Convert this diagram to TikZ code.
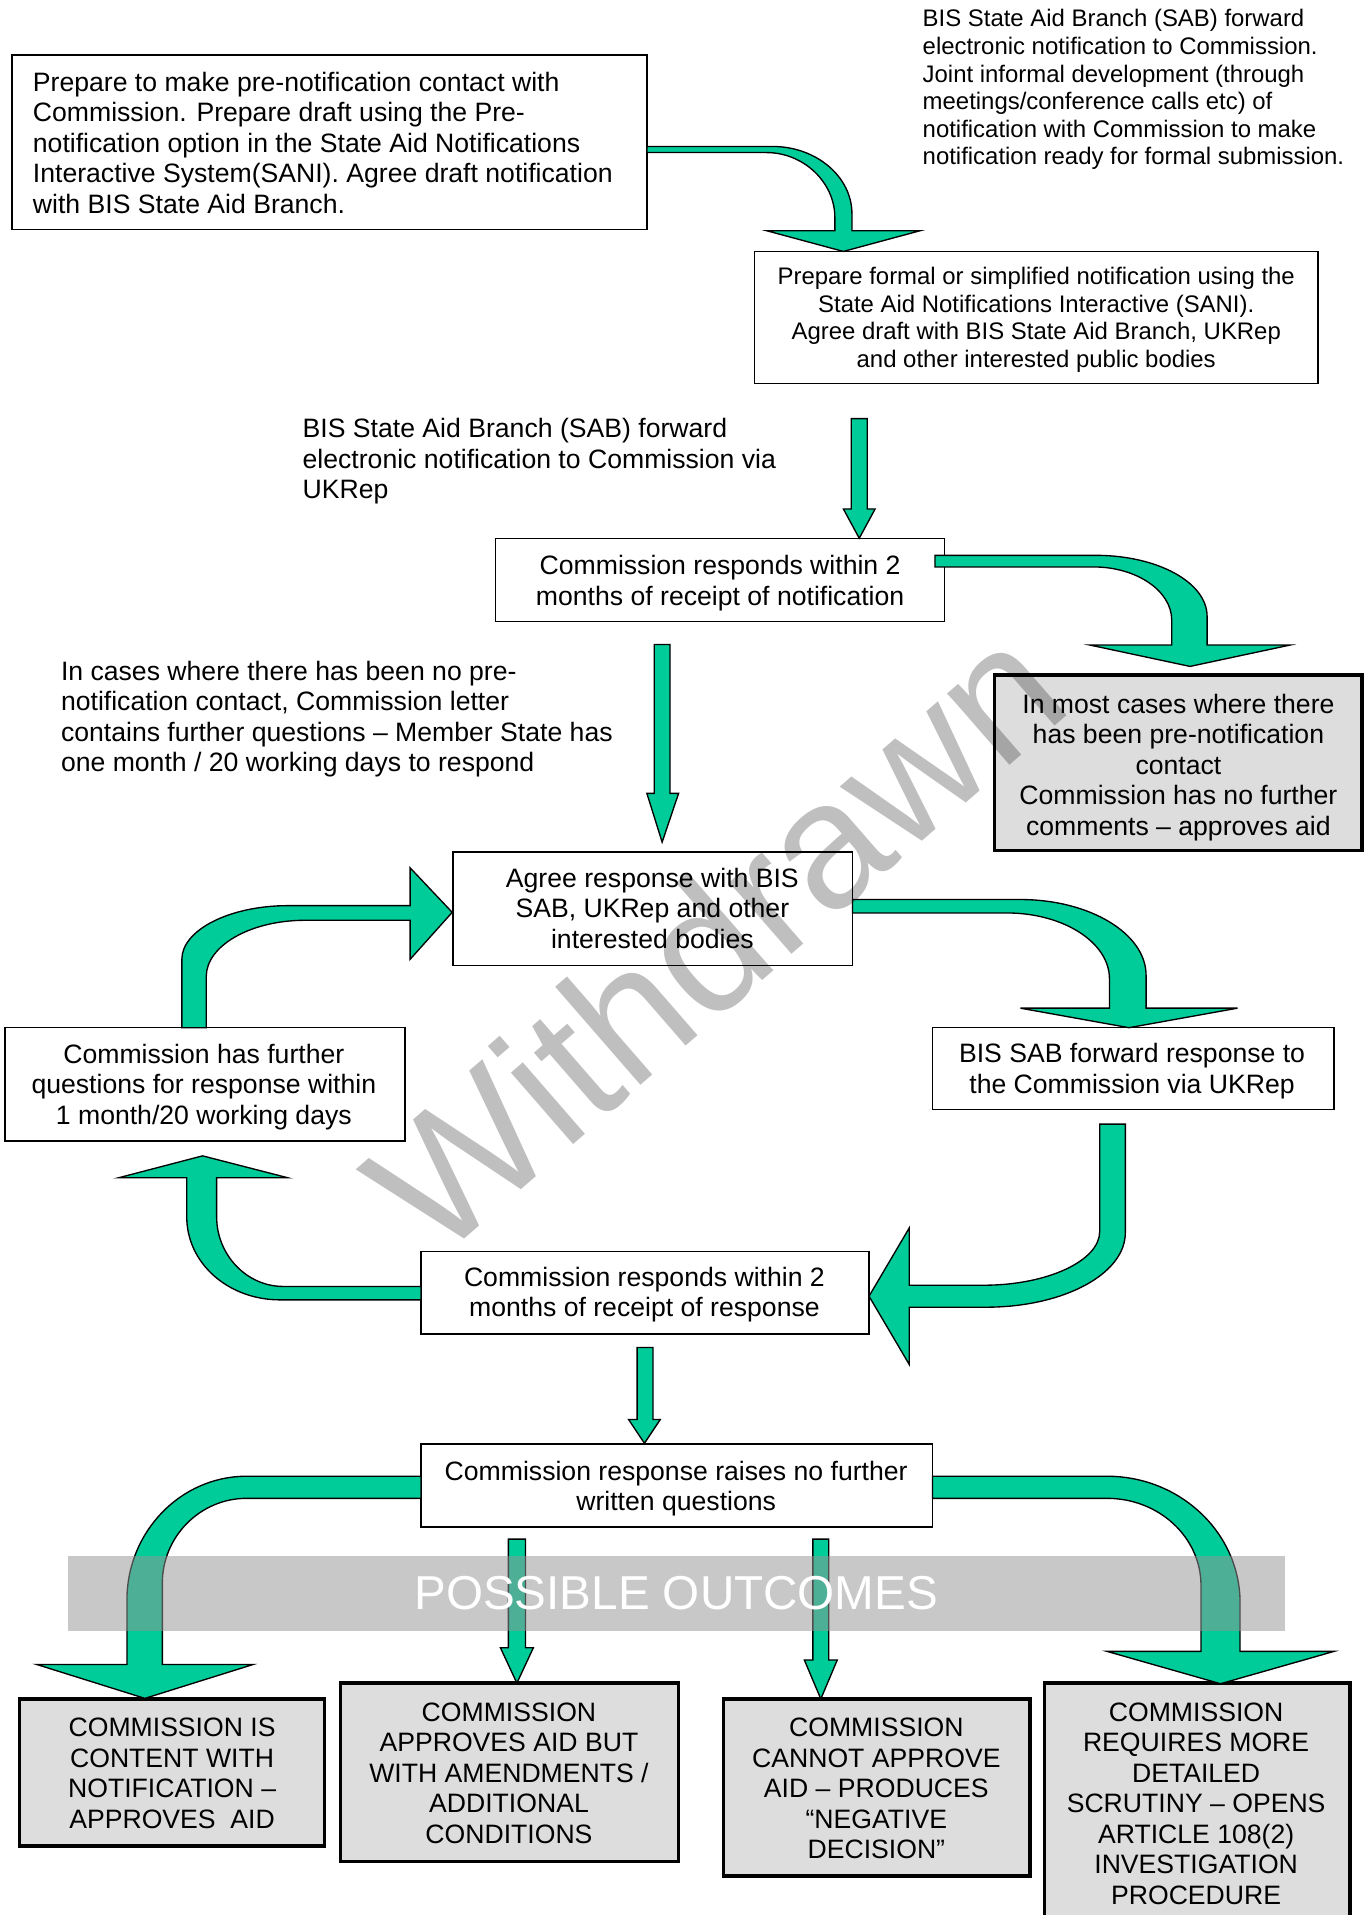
\documentclass[tikz,border=0pt]{standalone}
\usepackage{fontspec}
\setmainfont{Liberation Sans}
\definecolor{arrowgreen}{RGB}{0,204,153}
\definecolor{boxgrey}{RGB}{221,221,221}
\definecolor{bandgrey}{RGB}{149,149,149}
\newcommand\mainfs{\fontsize{21.8pt}{25pt}\selectfont}
\newcommand\smallfs{\fontsize{19.6pt}{22.6pt}\selectfont}
\newcommand\ml{\rule[-4.7pt]{0pt}{25pt}}
\newcommand\sml{\rule[-4.3pt]{0pt}{22.6pt}}
\begin{document}
\begin{tikzpicture}[x=1pt,y=-1pt]
\tikzset{
  plainbox/.style={draw=black, line width=1.2pt, inner sep=0pt, outer sep=0pt},
  greybox/.style={draw=black, line width=2.7pt, fill=boxgrey, inner sep=0pt, outer sep=0pt},
  txt/.style={inner sep=0pt, outer sep=0pt, font=\mainfs, align=center},
  ltxt/.style={inner sep=0pt, outer sep=0pt, font=\mainfs, align=left, anchor=west},
  stxt/.style={inner sep=0pt, outer sep=0pt, font=\smallfs},
  fatarrow/.style={fill=arrowgreen, draw=black, line width=1.1pt, line join=miter},
}
\useasboundingbox (0,0) rectangle (1120,1569);

% ---------- boxes ----------
\node[plainbox, minimum width=520pt, minimum height=143pt] (b1) at (270,116.5) {};
\node[plainbox, minimum width=462pt, minimum height=108pt] (b2) at (849,260) {};
\node[plainbox, minimum width=368pt, minimum height=68pt] (b3) at (590,475) {};
\node[greybox, minimum width=301pt, minimum height=144pt] (g1) at (965.5,625) {};
\node[plainbox, minimum width=327.5pt, minimum height=93pt] (b4) at (534.75,744.5) {};
\node[plainbox, minimum width=329pt, minimum height=67pt] (b5) at (928.5,875.5) {};
\node[plainbox, minimum width=328pt, minimum height=93pt] (b6) at (168,888.5) {};
\node[plainbox, minimum width=367pt, minimum height=67.5pt] (b7) at (528.5,1059.25) {};
\node[plainbox, minimum width=419pt, minimum height=68pt] (b8) at (554.5,1217) {};
\node[greybox, minimum width=250pt, minimum height=120.5pt] (o1) at (141,1452.25) {};
\node[greybox, minimum width=277pt, minimum height=146pt] (o2) at (417.5,1452) {};
\node[greybox, minimum width=251pt, minimum height=145pt] (o3) at (718.5,1464.5) {};
\node[greybox, minimum width=250pt, minimum height=201pt] (o4) at (981,1479.5) {};

% ---------- arrows ----------
% A: b1 -> b2
\filldraw[fatarrow] (530,120) -- (633,120) .. controls (669,120) and (698,145) .. (698,175)
  -- (698,189) -- (754,189) -- (691,206) -- (628,189) -- (684,189) -- (684,178)
  .. controls (684,150) and (659,125) .. (628,125) -- (530,125) -- cycle;
% B: b2 -> b3
\filldraw[fatarrow] (697.5,343) -- (710.5,343) -- (710.5,417) -- (717,417) -- (704,441)
  -- (691,417) -- (697.5,417) -- cycle;
% C: b3 -> g1
\filldraw[fatarrow] (766,455) -- (898,455) .. controls (948,455) and (989,477) .. (989,505)
  -- (989,528.5) -- (1057,528.5) -- (975,546) -- (893,528.5) -- (960,528.5) -- (960,508)
  .. controls (960,484) and (931,464.5) .. (896,464.5) -- (766,464.5) -- cycle;
% D: b3 -> b4
\filldraw[fatarrow] (536,528) -- (549,528) -- (549,650) -- (556,650) -- (542.5,690)
  -- (530,650) -- (536,650) -- cycle;
% E: b4 -> b5
\filldraw[fatarrow] (698.5,737) -- (836,737) .. controls (893,737) and (939,765) .. (939,799)
  -- (939,826) -- (1014,826) -- (925,842) -- (836,826) -- (909,826) -- (909,802)
  .. controls (909,772) and (871,748) .. (825,748) -- (698.5,748) -- cycle;
% F: b6 -> b4
\filldraw[fatarrow] (149,842) -- (149,786) .. controls (149,762) and (188,742) .. (236,742)
  -- (336,742) -- (336,711) -- (370.5,747.5) -- (336,786) -- (336,754) -- (250,754)
  .. controls (205,754) and (169,775) .. (169,800) -- (169,842) -- cycle;
% G: b5 -> b7
\filldraw[fatarrow] (901,921) -- (922,921) -- (922,1010) .. controls (922,1044) and (871,1071) .. (808,1071)
  -- (745,1071) -- (745,1118) -- (712,1062) -- (745,1006) -- (745,1053) -- (806,1053)
  .. controls (858,1053) and (901,1033) .. (901,1009) -- cycle;
% H: b7 -> b6
\filldraw[fatarrow] (345,1054) -- (232,1054) .. controls (202,1054) and (177.5,1028) .. (177.5,997)
  -- (177.5,965) -- (236,965) -- (166,947) -- (97,965) -- (153,965) -- (153,997)
  .. controls (153,1035) and (187,1065) .. (229.5,1065) -- (345,1065) -- cycle;
% I: b7 -> b8
\filldraw[fatarrow] (522,1104) -- (535,1104) -- (535,1163) -- (541,1163) -- (528,1182.5)
  -- (515,1163) -- (522,1163) -- cycle;
% J: b8 -> o1
\filldraw[fatarrow] (345,1209.5) -- (202,1209.5) .. controls (148,1209.5) and (104,1255) .. (104,1311)
  -- (104,1363.7) -- (30,1363.7) -- (118.7,1391.5) -- (207.5,1363.7) -- (133,1363.7) -- (133,1297)
  .. controls (133,1259) and (164,1227.6) .. (202,1227.6) -- (345,1227.6) -- cycle;
% K: b8 -> o4
\filldraw[fatarrow] (764,1209.5) -- (907,1209.5) .. controls (967,1209.5) and (1016,1256) .. (1016,1313)
  -- (1016,1353) -- (1093,1353) -- (1000,1379.5) -- (907,1353) -- (984,1353) -- (984,1299)
  .. controls (984,1259.5) and (949.5,1227.6) .. (907,1227.6) -- (764,1227.6) -- cycle;
% L: b8 -> o2
\filldraw[fatarrow] (416.5,1261) -- (430.5,1261) -- (430.5,1350) -- (437,1350) -- (423.5,1379)
  -- (410,1350) -- (416.5,1350) -- cycle;
% M: b8 -> o3
\filldraw[fatarrow] (666,1261) -- (679,1261) -- (679,1360) -- (686,1360) -- (672.5,1392)
  -- (659,1360) -- (666,1360) -- cycle;

% ---------- outcomes band ----------
\fill[bandgrey, opacity=0.52] (56,1275) rectangle (1053,1336);
\node[inner sep=0pt, anchor=base, text=white, font=\fontsize{39pt}{39pt}\selectfont] (po) at (554,1319) {POSSIBLE OUTCOMES};

% ---------- texts ----------
\node[stxt, align=left, anchor=west] (t1) at (756,71.5) {\sml BIS State Aid Branch (SAB) forward\\\sml electronic notification to Commission.\\\sml Joint informal development (through\\\sml meetings/conference calls etc) of\\\sml notification with Commission to make\\\sml notification ready for formal submission.};
\node[ltxt] (t1b) at (27,117) {\ml Prepare to make pre-notification contact with\\\ml Commission. Prepare draft using the Pre-\\\ml notification option in the State Aid Notifications\\\ml Interactive System(SANI). Agree draft notification\\\ml with BIS State Aid Branch.};
\node[stxt, align=center] (t2) at (849,260) {\sml Prepare formal or simplified notification using the\\\sml State Aid Notifications Interactive (SANI).\\\sml Agree draft with BIS State Aid Branch, UKRep\\\sml and other interested public bodies};
\node[ltxt] (t3) at (248,376) {\ml BIS State Aid Branch (SAB) forward\\\ml electronic notification to Commission via\\\ml UKRep};
\node[txt] (t4) at (590,475.5) {\ml Commission responds within 2\\\ml months of receipt of notification};
\node[ltxt] (t5) at (50,587) {\ml In cases where there has been no pre-\\\ml notification contact, Commission letter\\\ml contains further questions – Member State has\\\ml one month / 20 working days to respond};
\node[txt] (t6) at (965.5,626.5) {\ml In most cases where there\\\ml has been pre-notification\\\ml contact\\\ml Commission has no further\\\ml comments – approves aid};
\node[txt] (t7) at (534.5,744) {\ml Agree response with BIS\\\ml SAB, UKRep and other\\\ml interested bodies};
\node[txt] (t8) at (927.5,875.5) {\ml BIS SAB forward response to\\\ml the Commission via UKRep};
\node[txt] (t9) at (167,888.5) {\ml Commission has further\\\ml questions for response within\\\ml 1 month/20 working days};
\node[txt] (t10) at (528,1058.5) {\ml Commission responds within 2\\\ml months of receipt of response};
\node[txt] (t11) at (554,1217.5) {\ml Commission response raises no further\\\ml written questions};
\node[txt] (t12) at (141,1452.5) {\ml COMMISSION IS\\\ml CONTENT WITH\\\ml NOTIFICATION –\\\ml APPROVES~~AID};
\node[txt] (t13) at (417,1452.5) {\ml COMMISSION\\\ml APPROVES AID BUT\\\ml WITH AMENDMENTS /\\\ml ADDITIONAL\\\ml CONDITIONS};
\node[txt] (t14) at (718,1465) {\ml COMMISSION\\\ml CANNOT APPROVE\\\ml AID – PRODUCES\\\ml “NEGATIVE\\\ml DECISION”};
\node[txt] (t15) at (980,1477.5) {\ml COMMISSION\\\ml REQUIRES MORE\\\ml DETAILED\\\ml SCRUTINY – OPENS\\\ml ARTICLE 108(2)\\\ml INVESTIGATION\\\ml PROCEDURE};

% ---------- watermark ----------
\node[inner sep=0pt, rotate=41, text=black, text opacity=0.25, font=\fontsize{147pt}{147pt}\selectfont] (wm) at (585,768) {Withdrawn};
\end{tikzpicture}
\end{document}
